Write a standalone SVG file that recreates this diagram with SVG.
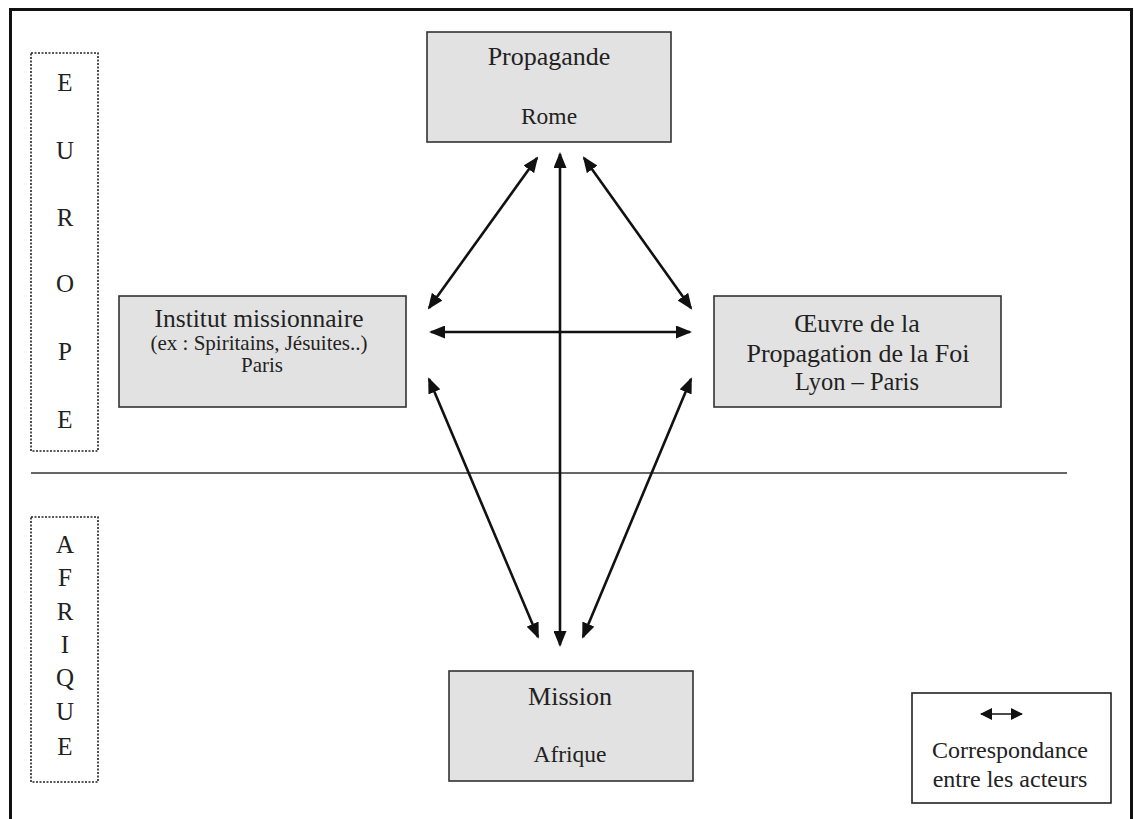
<svg xmlns="http://www.w3.org/2000/svg" width="1134" height="819" viewBox="0 0 1134 819">
<defs>
<style>
.box{fill:#e2e2e2;stroke:#333;stroke-width:1.6}
.dot{fill:#fff;stroke:#222;stroke-width:1.6;stroke-dasharray:2 1.5}
.t{font-family:"Liberation Serif","Times New Roman",serif;fill:#222;text-anchor:middle}
.big{font-size:26px}
.mid{font-size:23.5px}
.sm{font-size:21px}
.let{font-size:25px}
.conn line{stroke:#111;stroke-width:2.6;marker-start:url(#ah);marker-end:url(#ah)}
</style>
<marker id="ah" markerUnits="userSpaceOnUse" viewBox="0 0 16 13" markerWidth="16" markerHeight="13" refX="14" refY="6.5" orient="auto-start-reverse">
<path d="M0,0 L16,6.5 L0,13 z" fill="#111"/>
</marker>
<marker id="ahs" markerUnits="userSpaceOnUse" viewBox="0 0 12 12" markerWidth="12" markerHeight="12" refX="11" refY="6" orient="auto-start-reverse">
<path d="M0,0 L12,6 L0,12 z" fill="#111"/>
</marker>
</defs>
<rect width="1134" height="819" fill="#fff"/>
<path d="M10.5,830 V9.5 H1131.5 V830" fill="none" stroke="#111" stroke-width="3"/>

<g id="europe">
<rect class="dot" x="31" y="53" width="67" height="398"/>
<text class="t let" x="65" y="91">E</text>
<text class="t let" x="65" y="159">U</text>
<text class="t let" x="65" y="226">R</text>
<text class="t let" x="65" y="292">O</text>
<text class="t let" x="65" y="360">P</text>
<text class="t let" x="65" y="428">E</text>
</g>

<g id="afrique">
<rect class="dot" x="31" y="517" width="67" height="265"/>
<text class="t let" x="65" y="553">A</text>
<text class="t let" x="65" y="586">F</text>
<text class="t let" x="65" y="620">R</text>
<text class="t let" x="65" y="653">I</text>
<text class="t let" x="65" y="686">Q</text>
<text class="t let" x="65" y="720">U</text>
<text class="t let" x="65" y="755">E</text>
</g>

<line id="separator" x1="31" y1="473" x2="1067" y2="473" stroke="#333" stroke-width="1.6"/>

<g id="propagande">
<rect class="box" x="427" y="32" width="244" height="110"/>
<text class="t big" x="549" y="65">Propagande</text>
<text class="t mid" x="549" y="124">Rome</text>
</g>

<g id="institut">
<rect class="box" x="119" y="296" width="287" height="111"/>
<text class="t" style="font-size:25.5px" x="259" y="327">Institut missionnaire</text>
<text class="t sm" x="259" y="350">(ex : Spiritains, Jésuites..)</text>
<text class="t sm" x="262" y="372">Paris</text>
</g>

<g id="oeuvre">
<rect class="box" x="714" y="296" width="287" height="111"/>
<text class="t big" x="857" y="332">Œuvre de la</text>
<text class="t big" x="858" y="362">Propagation de la Foi</text>
<text class="t" style="font-size:24.5px" x="857" y="390">Lyon – Paris</text>
</g>

<g id="mission">
<rect class="box" x="449" y="671" width="244" height="110"/>
<text class="t big" x="570" y="705">Mission</text>
<text class="t mid" x="570" y="762">Afrique</text>
</g>

<g id="legend">
<rect x="912" y="693" width="199" height="110" fill="#fff" stroke="#222" stroke-width="1.6"/>
<line x1="981" y1="714" x2="1022" y2="714" stroke="#111" stroke-width="1.5" marker-start="url(#ahs)" marker-end="url(#ahs)"/>
<text class="t" style="font-size:24px" x="1010" y="758">Correspondance</text>
<text class="t" style="font-size:24px" x="1010" y="787">entre les acteurs</text>
</g>

<g id="connectors" class="conn">
<line x1="537" y1="158" x2="429" y2="308"/>
<line x1="584" y1="158" x2="691" y2="308"/>
<line x1="560" y1="154" x2="560" y2="645"/>
<line x1="431" y1="332" x2="690" y2="332"/>
<line x1="429" y1="379" x2="538" y2="637"/>
<line x1="691" y1="379" x2="583" y2="637"/>
</g>
</svg>
